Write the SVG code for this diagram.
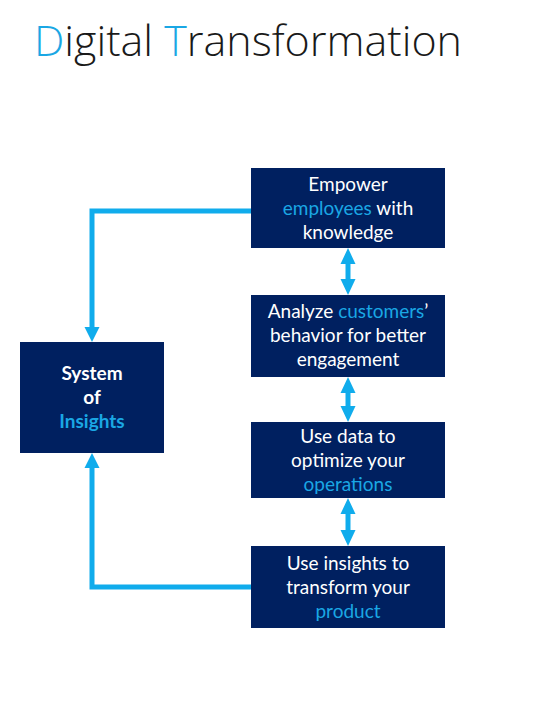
<svg xmlns="http://www.w3.org/2000/svg" width="549" height="710" viewBox="0 0 549 710">
<defs>
<style>
.box{fill:#002060}
.t{font-family:Lato,"Open Sans","Liberation Sans",sans-serif;font-size:19px;fill:#ffffff;text-anchor:middle}
.b{font-weight:bold}
.hl{fill:#1aa7e4}
.ln{fill:none;stroke:#10acec;stroke-width:5}
.ah{fill:#10acec}
.title{font-family:"Open Sans","Noto Sans",sans-serif;font-weight:300;font-size:43px;fill:#1a1a1a}
</style>
</defs>
<rect width="549" height="710" fill="#ffffff"/>
<text class="title" x="34" y="56" textLength="428" lengthAdjust="spacingAndGlyphs"><tspan fill="#1aa7e4">D</tspan>igital <tspan fill="#1aa7e4">T</tspan>ransformation</text>
<g id="connectors">
<polyline class="ln" points="251,211 92,211 92,328"/>
<polygon class="ah" points="84.5,327 99.5,327 92,342"/>
<polyline class="ln" points="251,587 92,587 92,467"/>
<polygon class="ah" points="84.5,468 99.5,468 92,453"/>
<line class="ln" x1="348" y1="262" x2="348" y2="281"/>
<polygon class="ah" points="340.5,264 355.5,264 348,248"/>
<polygon class="ah" points="340.5,279 355.5,279 348,295"/>
<line class="ln" x1="348" y1="391" x2="348" y2="408"/>
<polygon class="ah" points="340.5,393 355.5,393 348,377"/>
<polygon class="ah" points="340.5,406 355.5,406 348,422"/>
<line class="ln" x1="348" y1="512" x2="348" y2="532"/>
<polygon class="ah" points="340.5,514 355.5,514 348,498"/>
<polygon class="ah" points="340.5,530 355.5,530 348,546"/>
</g>
<g id="n1">
<rect class="box" x="251" y="168" width="194" height="80"/>
<text class="t" x="348" y="191">Empower</text>
<text class="t" x="348" y="215"><tspan class="hl">employees</tspan> with</text>
<text class="t" x="348" y="239">knowledge</text>
</g>
<g id="n2">
<rect class="box" x="251" y="295" width="194" height="82"/>
<text class="t" x="348" y="318">Analyze <tspan class="hl">customers</tspan>’</text>
<text class="t" x="348" y="342">behavior for better</text>
<text class="t" x="348" y="366">engagement</text>
</g>
<g id="n3">
<rect class="box" x="251" y="422" width="194" height="76"/>
<text class="t" x="348" y="443">Use data to</text>
<text class="t" x="348" y="467">optimize your</text>
<text class="t" x="348" y="491"><tspan class="hl">operations</tspan></text>
</g>
<g id="n4">
<rect class="box" x="251" y="546" width="194" height="82"/>
<text class="t" x="348" y="570">Use insights to</text>
<text class="t" x="348" y="594">transform your</text>
<text class="t" x="348" y="618"><tspan class="hl">product</tspan></text>
</g>
<g id="n0">
<rect class="box" x="20" y="342" width="144" height="111"/>
<text class="t b" x="92" y="380">System</text>
<text class="t b" x="92" y="404">of</text>
<text class="t b" x="92" y="428"><tspan class="hl">Insights</tspan></text>
</g>
</svg>
